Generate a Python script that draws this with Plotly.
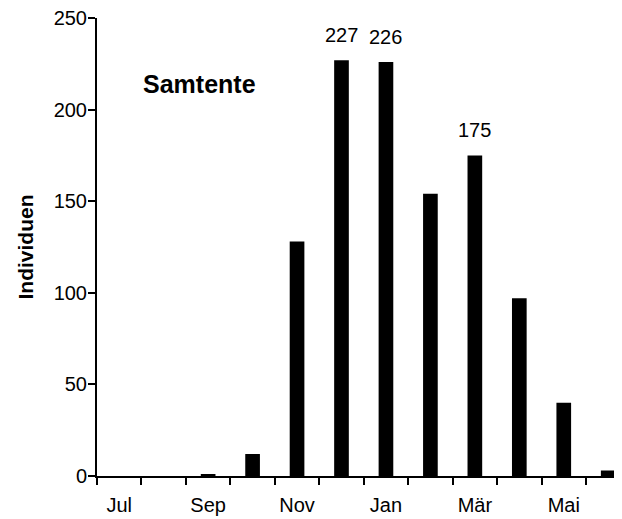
import plotly.graph_objects as go

MONTHS = ["Jul", "Aug", "Sep", "Okt", "Nov", "Dez", "Jan", "Feb", "Mär", "Apr", "Mai", "Jun"]
COUNTS = [0, 0, 1, 12, 128, 227, 226, 154, 175, 97, 40, 3]
TICK_LABELS = ["Jul", "", "Sep", "", "Nov", "", "Jan", "", "Mär", "", "Mai", ""]
LABELLED = ["Dez", "Jan", "Mär"]

FONT = "Arial, Liberation Sans, sans-serif"

fig = go.Figure()
fig.add_trace(go.Bar(
    x=MONTHS,
    y=COUNTS,
    width=0.33,
    marker_color="black",
    marker_line_width=0,
    showlegend=False,
))

for m, c in zip(MONTHS, COUNTS):
    if m in LABELLED:
        fig.add_annotation(x=m, y=c, text=str(c), showarrow=False,
                           yanchor="bottom", yshift=12,
                           font=dict(size=20, color="black", family=FONT))

fig.add_annotation(x=1.8, y=214, xref="x", yref="y", text="<b>Samtente</b>",
                   showarrow=False, font=dict(size=25, color="black", family=FONT))

# page has an 8px body margin, so the figure is sized to fit inside the window
fig.update_layout(
    width=614, height=511,
    margin=dict(l=89, r=0, t=10, b=43),
    plot_bgcolor="white", paper_bgcolor="white",
    font=dict(family=FONT, size=20, color="black"),
    xaxis=dict(
        type="category",
        categoryorder="array", categoryarray=MONTHS,
        tickvals=MONTHS, ticktext=TICK_LABELS,
        tickson="boundaries",
        tickangle=0,
        ticklabelstandoff=10,
        ticklabeloverflow="allow",
        range=[-0.5, 11.31],
        automargin=False,
        showline=True, linewidth=2, linecolor="black",
        ticks="outside", ticklen=7, tickwidth=2, tickcolor="black",
        showgrid=False, zeroline=False,
    ),
    yaxis=dict(
        range=[0, 250],
        tickvals=[0, 50, 100, 150, 200, 250],
        ticklabelstandoff=-3,
        ticklabeloverflow="allow",
        automargin=False,
        showline=True, linewidth=2, linecolor="black",
        ticks="outside", ticklen=7, tickwidth=2, tickcolor="black",
        showgrid=False, zeroline=False,
        title=dict(text="<b>Individuen</b>", font=dict(size=21), standoff=14),
    ),
)

fig.write_html("out.html")
